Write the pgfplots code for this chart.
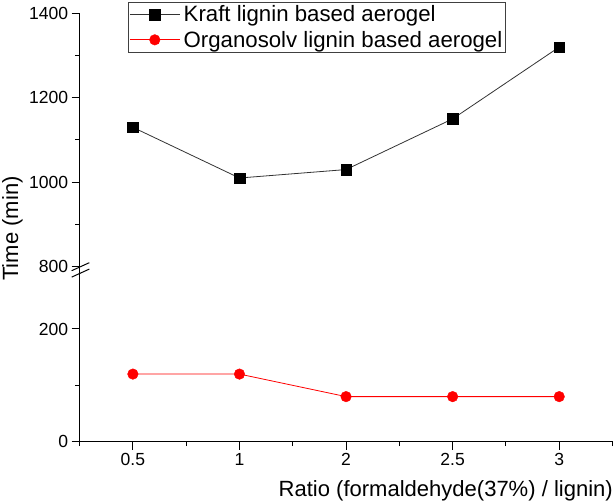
\documentclass[border=0pt]{standalone}
\usepackage{fontspec}
\setmainfont{Liberation Sans}
\usepackage{pgfplots}
\pgfplotsset{compat=1.18}

\newcommand{\legfont}{\fontsize{22.3}{26}\selectfont}
\newcommand{\labfont}{\fontsize{22.1}{26}\selectfont}

\pgfplotsset{
  brokenaxis/.style={
    scale only axis,
    width=532.9bp,
    xmin=-0.5, xmax=4.5,
    axis line style={-, line width=1bp, black},
    tick align=outside,
    major tick length=8bp,
    minor tick length=4.5bp,
    every tick/.style={line width=1bp, black},
    tick label style={font=\fontsize{17.6}{21}\selectfont},
    /pgf/number format/assume math mode=true,
    /pgf/number format/1000 sep={},
    clip=false,
  },
  legend image code/.code={
    \draw[mark repeat=2, mark phase=2] plot coordinates {(0bp,0bp) (25bp,0bp) (50bp,0bp)};
  },
}

\begin{document}
\begin{tikzpicture}
\path[use as bounding box] (0,0) rectangle (615bp,504bp);

% upper part: 800 -- 1400
\begin{axis}[brokenaxis,
  at={(79.6bp,237.3bp)}, anchor=south west,
  height=253.4bp,
  ymin=800, ymax=1400,
  axis x line=none, axis y line*=left,
  ytick={800,1000,1200,1400}, minor ytick={900,1100,1300},
  legend style={at={(0.0908,1.046)}, anchor=north west,
    draw=black!75, line width=0.8bp,
    inner xsep=1bp, inner ysep=0bp,
    column sep=1.5bp,
    nodes={inner xsep=2bp, inner ysep=3.8bp},
    cells={anchor=west}},
]
\addplot[color=black!80, line width=0.8bp, mark=square*, mark size=5.3bp,
  mark options={fill=black, draw=black, line width=0.4bp}]
  coordinates {(0,1130) (1,1010) (2,1030) (3,1150) (4,1320)};
\addlegendentry{\legfont Kraft lignin based aerogel}
\addlegendimage{color=red, line width=0.8bp, mark=*, mark size=5.3bp,
  mark options={fill=red, draw=red, line width=0.4bp}}
\addlegendentry{\legfont Organosolv lignin based aerogel}
\end{axis}

% lower part: 0 -- 300
\begin{axis}[brokenaxis,
  at={(79.6bp,62.3bp)}, anchor=south west,
  height=169.05bp,
  ymin=0, ymax=300,
  axis x line*=bottom, axis y line*=left,
  xtick={0,1,2,3,4}, xticklabels={0.5,1,2,2.5,3},
  minor xtick={-0.5,0.5,1.5,2.5,3.5,4.5},
  ytick={0,200}, minor ytick={100},
]
\addplot[color=red, line width=0.8bp, mark=*, mark size=5.3bp,
  mark options={fill=red, draw=red, line width=0.4bp}]
  coordinates {(0,120) (1,120) (2,80) (3,80) (4,80)};
\end{axis}

% axis break
\draw[line width=1bp] (79.6bp,231.4bp) -- (79.6bp,237.3bp);
\draw[line width=1bp] (71.7bp,233.3bp) -- (89.3bp,241.3bp);
\draw[line width=1bp] (71.7bp,226.9bp) -- (89.3bp,234.9bp);

\node[rotate=90, anchor=base, inner sep=0pt, font=\labfont]
  at (18bp,275.5bp) {Time (min)};
\node[anchor=base east, inner sep=0pt, font=\labfont]
  at (613bp,7.3bp) {Ratio (formaldehyde(37\%) / lignin)};
\end{tikzpicture}
\end{document}
